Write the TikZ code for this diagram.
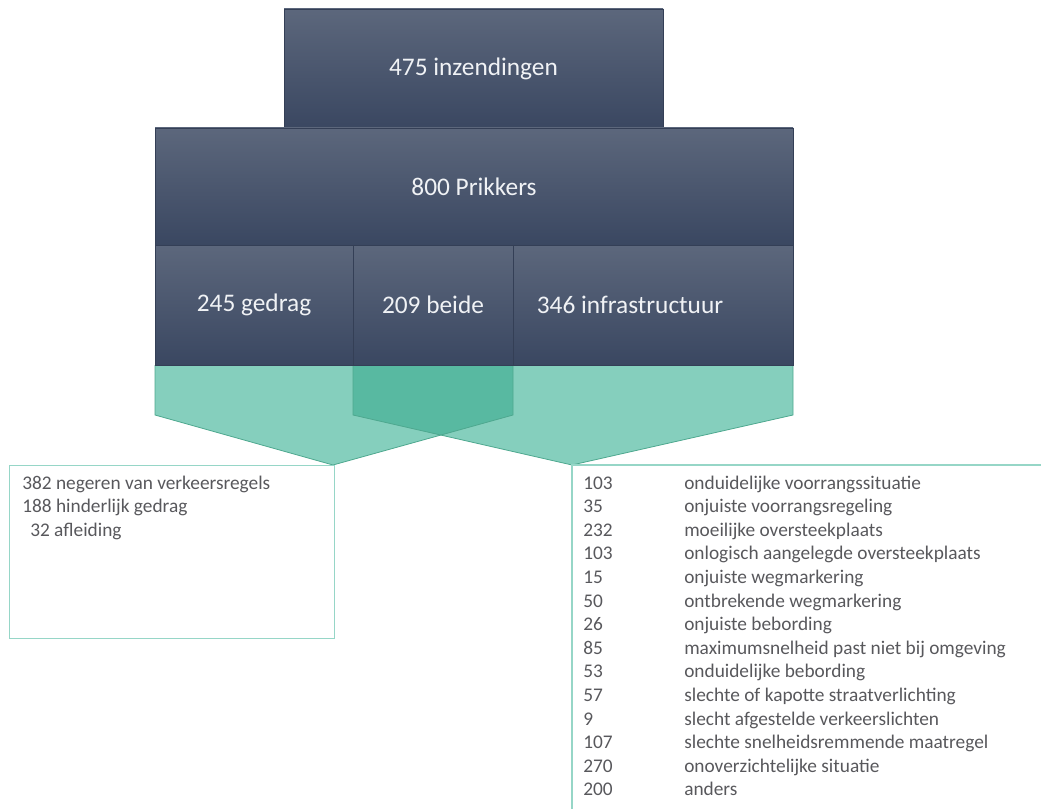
\documentclass[tikz,border=0pt]{standalone}
\usepackage{fontspec}
\setmainfont{Carlito}

\definecolor{bartop}{RGB}{92,103,124}
\definecolor{barbot}{RGB}{58,71,97}
\definecolor{barline}{RGB}{52,63,86}
\definecolor{bartxt}{RGB}{240,242,245}
\definecolor{mint}{RGB}{133,207,189}
\definecolor{mintdark}{RGB}{88,185,161}
\definecolor{mintline}{RGB}{78,168,143}
\definecolor{boxline}{RGB}{150,214,199}
\definecolor{listgray}{RGB}{88,88,92}

\begin{document}
\begin{tikzpicture}[
        x=0.75pt,  % 1 unit = 1 px of the reference
        y=-0.75pt,
        barbox/.style={draw=barline, line width=0.5pt, top color=bartop, bottom color=barbot, inner sep=0pt},
        bartext/.style={text=bartxt, font=\fontsize{19}{23}\selectfont},
        listbox/.style={draw=boxline, line width=0.9pt},
        listtext/.style={text=listgray, font=\fontsize{14.5}{17.7}\selectfont, inner sep=0pt, anchor=base west},
    ]

    \useasboundingbox (0,0) rectangle (1041,809);

    % Green chevrons below the bars
    \fill[mint] (155,365) -- (155,415) -- (333,465) -- (513,415) -- (513,365) -- cycle;
    \fill[mint] (353,365) -- (353,415) -- (572,465) -- (793,415) -- (793,365) -- cycle;
    \begin{scope}
        \clip (155,365) -- (155,415) -- (333,465) -- (513,415) -- (513,365) -- cycle;
        \fill[mintdark] (353,365) -- (353,415) -- (572,465) -- (793,415) -- (793,365) -- cycle;
    \end{scope}
    \draw[mintline, line width=0.6pt] (155,365) -- (155,415) -- (333,465) -- (513,415) -- (513,365);
    \draw[mintline, line width=0.6pt] (353,365) -- (353,415) -- (572,465) -- (793,415) -- (793,365);

    % Dark bars
    \node[barbox, minimum width=284.25pt, minimum height=89.25pt] (inzend) at (473.5, 68.5) {};
    \node[bartext] at (inzend) {475 inzendingen};
    \node[barbox, minimum width=478.5pt, minimum height=87.75pt] (prikkers) at (474, 186.5) {};
    \node[bartext] at (prikkers) {800 Prikkers};

    % Third row: three cells
    \node[barbox, minimum width=148.5pt, minimum height=90pt] (gedrag) at (254, 305) {};
    \node[barbox, minimum width=120pt, minimum height=90pt] (beide) at (433, 305) {};
    \node[barbox, minimum width=210pt, minimum height=90pt] (infra) at (653, 305) {};
    \node[bartext] at (gedrag) {245 gedrag};
    \node[bartext] at (beide) {209 beide};
    \node[bartext] (infratext) at (630, 305) {346 infrastructuur};

    % Left list (gedrag)
    \node[listbox, minimum width=243.75pt, minimum height=129.75pt, anchor=north west] (gedragbox) at (9, 465) {};
    \foreach \tx/\txt [count=\i from 0] in {22/382 negeren van verkeersregels, 22/188 hinderlijk gedrag, 30/32 afleiding} {
        \node[listtext] (gedrag\i) at (\tx, {489+23.6*\i}) {\txt};
    }

    % Right list (infrastructuur)
    \draw[listbox] (1041,465) -- (572,465) -- (572,809);
    \foreach \num/\what [count=\i from 0] in {
            103/onduidelijke voorrangssituatie,
            35/onjuiste voorrangsregeling,
            232/moeilijke oversteekplaats,
            103/onlogisch aangelegde oversteekplaats,
            15/onjuiste wegmarkering,
            50/ontbrekende wegmarkering,
            26/onjuiste bebording,
            85/maximumsnelheid past niet bij omgeving,
            53/onduidelijke bebording,
            57/slechte of kapotte straatverlichting,
            9/slecht afgestelde verkeerslichten,
            107/slechte snelheidsremmende maatregel,
            270/onoverzichtelijke situatie,
            200/anders} {
        \node[listtext] (num\i) at (583, {489+23.6*\i}) {\num};
        \node[listtext] (what\i) at (684, {489+23.6*\i}) {\what};
    }

\end{tikzpicture}
\end{document}
